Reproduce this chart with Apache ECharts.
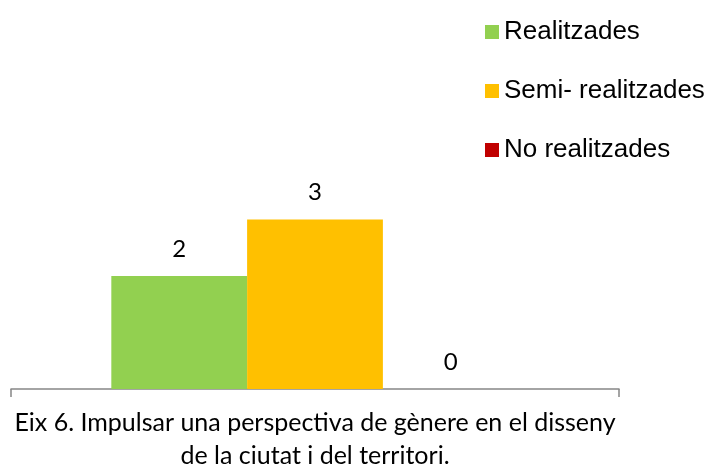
<!DOCTYPE html>
<html>
<head>
<meta charset="utf-8">
<script src="https://cdn.jsdelivr.net/npm/echarts@6/dist/echarts.min.js"></script>
<style>
  html, body { margin: 0; padding: 0; background: #fff; }
  #chart { width: 707px; height: 472px; }
</style>
</head>
<body>
<div id="chart"></div>
<script>
// dades del gràfic
const categories = ['Eix 6. Impulsar una perspectiva de gènere en el disseny\nde la ciutat i del territori.']
const seriesNames = ['Realitzades', 'Semi- realitzades', 'No realitzades']
const realitzades = [2]
const semiRealitzades = [3]
const noRealitzades = [0]
const colors = ['#92D050', '#FFC000', '#C00000']

const chart = echarts.init(document.getElementById('chart'))

const labelStyle = {
  show: true,
  position: 'top',
  distance: 15,
  fontFamily: 'Lato',
  fontSize: 24,
  color: '#000'
}

const option = {
  animation: false,
  color: colors,
  legend: {
    orient: 'vertical',
    left: 480,
    top: 14,
    itemGap: 33,
    itemWidth: 14,
    itemHeight: 14,
    icon: 'rect',
    textStyle: {
      fontFamily: 'Liberation Sans',
      fontSize: 26,
      lineHeight: 26,
      color: '#000'
    },
    data: seriesNames
  },
  grid: {
    left: 11,
    right: 88,
    top: 50,
    bottom: 76
  },
  xAxis: {
    type: 'category',
    data: categories,
    axisLine: { lineStyle: { color: '#868686', width: 1.5 } },
    axisTick: { show: true, length: 8, lineStyle: { color: '#868686', width: 1.5 } },
    axisLabel: {
      margin: 17,
      fontFamily: 'Lato',
      fontSize: 25,
      lineHeight: 33,
      color: '#000',
      align: 'center'
    }
  },
  yAxis: {
    type: 'value',
    min: 0,
    max: 6,
    show: false
  },
  series: [
    {
      name: seriesNames[0],
      type: 'bar',
      data: realitzades,
      barCategoryGap: '33%',
      barGap: '0%',
      label: labelStyle
    },
    {
      name: seriesNames[1],
      type: 'bar',
      data: semiRealitzades,
      barGap: '0%',
      label: labelStyle
    },
    {
      name: seriesNames[2],
      type: 'bar',
      data: noRealitzades,
      barGap: '0%',
      label: labelStyle
    }
  ]
}

chart.setOption(option)
</script>
</body>
</html>
